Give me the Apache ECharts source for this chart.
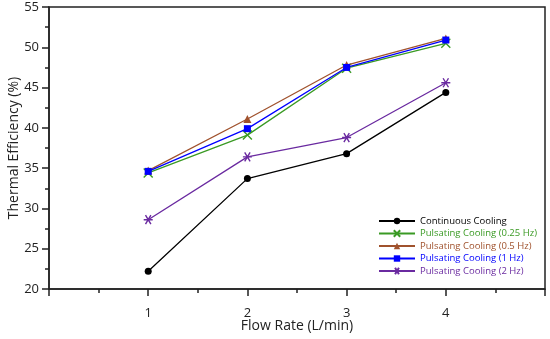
<!DOCTYPE html>
<html><head><meta charset="utf-8">
<script src="https://cdn.jsdelivr.net/npm/echarts@6/dist/echarts.min.js"></script>
<style>html,body{margin:0;padding:0;background:#fff}#c{width:550px;height:339px}</style>
</head><body><div id="c"></div>
<script>
const flowRates = [1, 2, 3, 4];
const continuous = [22.2, 33.7, 36.8, 44.4];
const pulse025 = [34.4, 39.1, 47.4, 50.5];
const pulse05 = [34.7, 41.1, 47.8, 51.1];
const pulse1 = [34.6, 39.9, 47.5, 50.9];
const pulse2 = [28.6, 36.4, 38.8, 45.6];
const seriesNames = ['Continuous Cooling','Pulsating Cooling (0.25 Hz)','Pulsating Cooling (0.5 Hz)','Pulsating Cooling (1 Hz)','Pulsating Cooling (2 Hz)'];
const colors = ['#000000','#3a9a24','#a0522d','#0000ff','#6a2aa0'];
const symbols = ['circle','path://M0,0L10,10M10,0L0,10','triangle','rect','path://M0,5L10,5M2,0.5L8,9.5M2,9.5L8,0.5'];
const allData = [continuous, pulse025, pulse05, pulse1, pulse2];
const font = 'Open Sans';

const chart = echarts.init(document.getElementById('c'), null, {renderer:'canvas'});
const series = allData.map((d, i) => ({
  name: seriesNames[i],
  type: 'line',
  data: flowRates.map((x, j) => [x, d[j]]),
  symbol: symbols[i],
  symbolSize: (i===1||i===4) ? 9 : (i===2 ? 8 : 7),
  showAllSymbol: true,
  lineStyle: {color: colors[i], width: 1.3},
  itemStyle: {color: colors[i], borderColor: colors[i], borderWidth: (i===1||i===4)?1.4:0},
  z: [2,3,4,5,6][i]
}));
chart.setOption({
  animation: false,
  textStyle: {fontFamily: font},
  grid: {left: 49, right: 5, top: 7, bottom: 50, show: true, borderColor: '#222', borderWidth: 1.5,
    containLabel: false, outerBoundsMode: 'none'},
  xAxis: {
    type: 'value', min: 0, max: 5, interval: 1,
    name: 'Flow Rate (L/min)', nameLocation: 'middle', nameGap: 30, nameMoveOverlap: false,
    nameTextStyle: {fontSize: 14, color: '#222', fontFamily: font},
    axisLine: {show: true, lineStyle: {color: '#222', width: 1.5}},
    axisTick: {show: true, length: 7, lineStyle: {color: '#222', width: 1.5}},
    minorTick: {show: true, splitNumber: 2, length: 4, lineStyle: {color: '#222', width: 1.5}},
    axisLabel: {margin: 18, fontSize: 13, color: '#222', fontFamily: font,
      formatter: v => (v >= 1 && v <= 4) ? String(v) : ''},
    splitLine: {show: false}
  },
  yAxis: {
    type: 'value', min: 20, max: 55, interval: 5,
    name: 'Thermal Efficiency (%)', nameLocation: 'middle', nameGap: 28, nameMoveOverlap: false,
    nameTextStyle: {fontSize: 14, color: '#222', fontFamily: font},
    axisLine: {show: true, lineStyle: {color: '#222', width: 1.5}},
    axisTick: {show: true, length: 7, lineStyle: {color: '#222', width: 1.5}},
    minorTick: {show: true, splitNumber: 2, length: 4, lineStyle: {color: '#222', width: 1.5}},
    axisLabel: {margin: 10, fontSize: 13, color: '#222', fontFamily: font},
    splitLine: {show: false}
  },
  legend: {
    orient: 'vertical', left: 373, top: 211,
    itemWidth: 36, itemHeight: 8, itemGap: 2.5,
    data: seriesNames.map((n, i) => ({name: n, textStyle: {color: colors[i], fontSize: 9.5, fontFamily: font}})),
    textStyle: {fontSize: 9.5}
  },
  series: series
});
</script></body></html>
